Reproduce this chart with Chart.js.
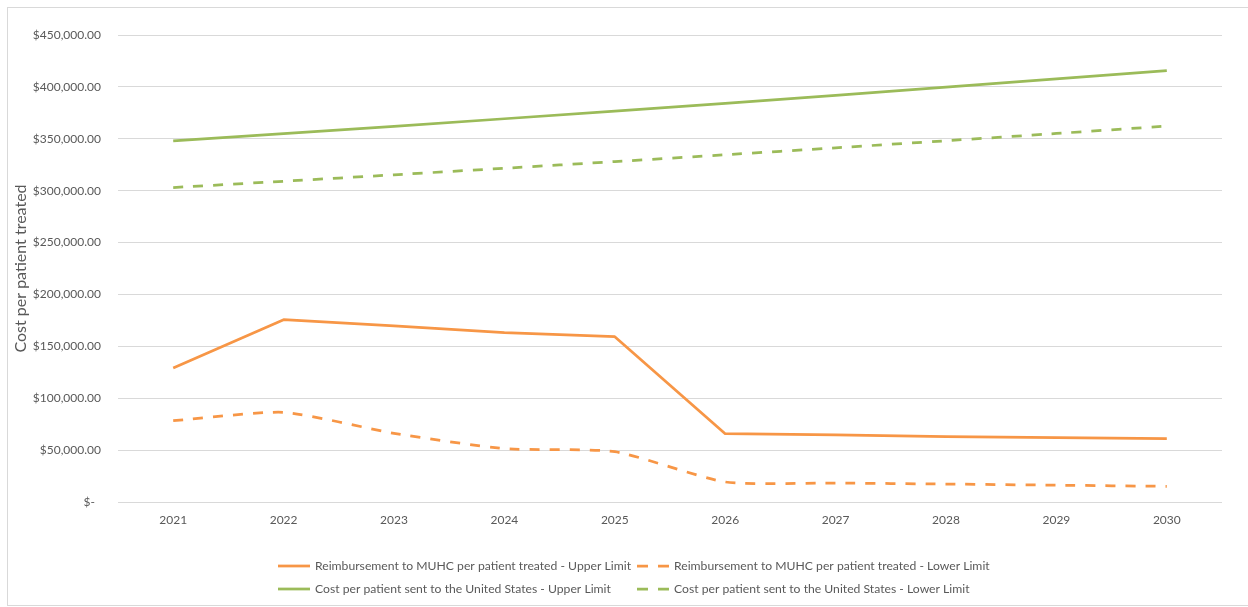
<!DOCTYPE html>
<html>
<head>
<meta charset="utf-8">
<script src="https://cdn.jsdelivr.net/npm/chart.js@4.4.1/dist/chart.umd.min.js"></script>
<style>
  html, body { margin: 0; padding: 0; background: #ffffff; }
  #wrap { position: relative; width: 1248px; height: 607px; }
</style>
</head>
<body>
<div id="wrap"><canvas id="chart" width="1248" height="607"></canvas></div>
<script>
// Years on the horizontal axis
const years = ['2021', '2022', '2023', '2024', '2025', '2026', '2027', '2028', '2029', '2030'];

// Reimbursement to MUHC per patient treated
const reimbUpper = [129100, 175700, 169600, 163100, 159300, 65800, 64600, 63100, 62000, 61000];
const reimbLower = [78300, 86400, 66200, 51400, 48500, 19300, 18300, 17300, 16200, 15100];

// Cost per patient sent to the United States
const usUpper = [348000, 355000, 362000, 369300, 376700, 384200, 391900, 399700, 407700, 415700];
const usLower = [303000, 309100, 315300, 321600, 328000, 334600, 341300, 348100, 355100, 362200];

const seriesLabels = [
  'Reimbursement to MUHC per patient treated - Upper Limit',
  'Reimbursement to MUHC per patient treated - Lower Limit',
  'Cost per patient sent to the United States - Upper Limit',
  'Cost per patient sent to the United States - Lower Limit'
];

const ORANGE = '#F79646';
const GREEN = '#9BBB59';
const TEXT = '#595959';
const GRID = '#d9d9d9';
const FONT = 'Lato, "Open Sans", sans-serif';

function money(v) {
  if (v === 0) return '$-  ';
  return '$' + v.toLocaleString('en-US', { minimumFractionDigits: 2, maximumFractionDigits: 2 });
}

// White background and thin frame around the whole chart
const framePlugin = {
  id: 'frame',
  beforeDraw(chart) {
    const ctx = chart.ctx;
    ctx.save();
    ctx.fillStyle = '#ffffff';
    ctx.fillRect(0, 0, chart.width, chart.height);
    ctx.strokeStyle = GRID;
    ctx.lineWidth = 1;
    ctx.strokeRect(7.5, 7.5, chart.width + 10, 598);
    ctx.restore();
  }
};

// Two-column legend below the plot
const gridLegendPlugin = {
  id: 'gridLegend',
  afterDraw(chart) {
    const ctx = chart.ctx;
    const cols = [278, 637];
    const rows = [566, 589];
    ctx.save();
    ctx.font = '11.5px ' + FONT;
    ctx.textBaseline = 'middle';
    ctx.fillStyle = TEXT;
    const sx = 316 / ctx.measureText(chart.data.datasets[0].label).width;
    chart.data.datasets.forEach((ds, i) => {
      const x = cols[i % 2];
      const y = rows[Math.floor(i / 2)];
      ctx.save();
      ctx.strokeStyle = ds.borderColor;
      ctx.lineWidth = 2.75;
      ctx.lineCap = 'butt';
      ctx.setLineDash(ds.borderDash && ds.borderDash.length ? [11, 10] : []);
      ctx.beginPath();
      ctx.moveTo(x, y);
      ctx.lineTo(x + 32, y);
      ctx.stroke();
      ctx.restore();
      ctx.save();
      ctx.translate(x + 37, y);
      ctx.scale(sx, 1);
      ctx.fillStyle = TEXT;
      ctx.fillText(ds.label, 0, 0);
      ctx.restore();
    });
    ctx.restore();
  }
};

function line(label, data, color, dashed) {
  return {
    label: label,
    data: data,
    borderColor: color,
    backgroundColor: color,
    borderWidth: 2.75,
    borderDash: dashed ? [10, 10] : [],
    borderCapStyle: 'butt',
    borderJoinStyle: 'round',
    pointRadius: 0,
    pointHoverRadius: 0,
    tension: dashed ? 0.2 : 0,
    fill: false
  };
}

new Chart(document.getElementById('chart'), {
  type: 'line',
  data: {
    labels: years,
    datasets: [
      line(seriesLabels[0], reimbUpper, ORANGE, false),
      line(seriesLabels[1], reimbLower, ORANGE, true),
      line(seriesLabels[2], usUpper, GREEN, false),
      line(seriesLabels[3], usLower, GREEN, true)
    ]
  },
  options: {
    responsive: false,
    animation: false,
    layout: { padding: { left: 0, top: 35, right: 26, bottom: 75 } },
    plugins: {
      legend: { display: false },
      tooltip: { enabled: false }
    },
    scales: {
      x: {
        offset: true,
        grid: { display: false, drawTicks: false },
        border: { display: false },
        ticks: { color: TEXT, font: { family: FONT, size: 12 }, padding: 11, maxRotation: 0 },
        afterFit(scale) { scale.height = 30; }
      },
      y: {
        min: 0,
        max: 450000,
        ticks: {
          stepSize: 50000,
          color: TEXT,
          font: { family: FONT, size: 12 },
          padding: 17,
          callback: (v) => money(v)
        },
        grid: { color: GRID, lineWidth: 1, drawTicks: false },
        border: { display: false },
        title: {
          display: true,
          text: 'Cost per patient treated',
          color: TEXT,
          font: { family: FONT, size: 16 },
          padding: { top: 11, bottom: 0 }
        },
        afterFit(scale) { scale.width = 118; }
      }
    }
  },
  plugins: [framePlugin, gridLegendPlugin]
});
</script>
</body>
</html>
